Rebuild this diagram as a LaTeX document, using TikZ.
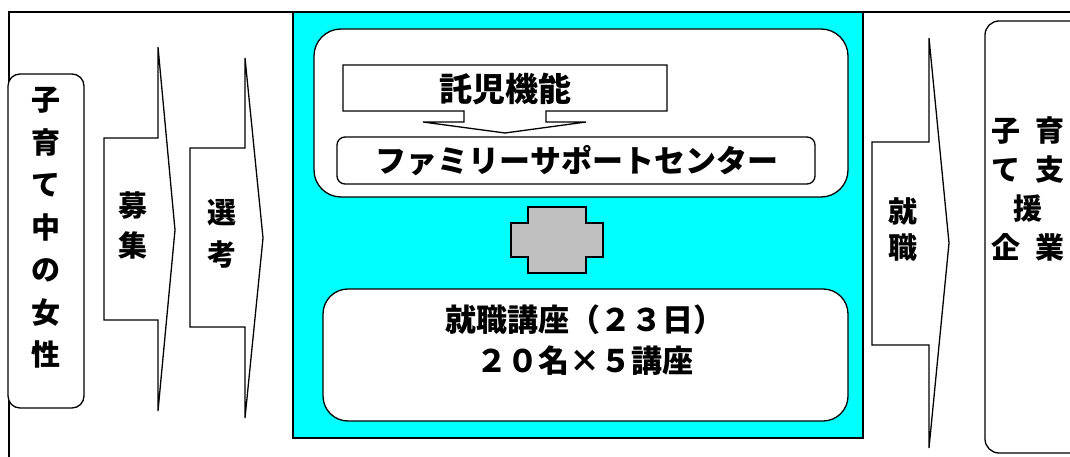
\documentclass[tikz,border=0pt]{standalone}
\usepackage{fontspec}
\setmainfont{Noto Sans CJK JP}
\definecolor{aqua}{RGB}{0,255,255}
\definecolor{crossgray}{RGB}{192,192,192}
\begin{document}
\begin{tikzpicture}[x=1pt,y=-1pt,
  shp/.style={draw=black,line width=1.3pt,fill=white,line join=miter},
  jtxt/.style={inner sep=0pt,align=center},
  big/.style={font=\fontsize{31}{41}\selectfont\bfseries},
]
\useasboundingbox (0,0) rectangle (1070,457);
\fill[white] (0,0) rectangle (1070,457);
% outer frame
\draw[line width=2pt] (9,470) -- (9,12) -- (1090,12);
% left box
\draw[shp, rounded corners=12pt] (8,74) rectangle (84,408);
\node[jtxt, font=\fontsize{29}{42.5}\selectfont\bfseries] (women) at (46,228) {子\\育\\て\\中\\の\\女\\性};
% recruit arrow
\draw[shp] (104,138) -- (158,138) -- (158,47) -- (175,230) -- (158,411) -- (158,320) -- (104,320) -- cycle;
\node[jtxt, font=\fontsize{29}{40}\selectfont\bfseries] (recruit) at (133,225) {募\\集};
% selection arrow
\draw[shp] (190,148) -- (245,148) -- (245,58) -- (263,238) -- (245,418) -- (245,327) -- (190,327) -- cycle;
\node[jtxt, font=\fontsize{29}{42}\selectfont\bfseries] (select) at (222,234) {選\\考};
% cyan panel
\draw[line width=2pt, fill=aqua] (293,12) rectangle (863,438);
% top rounded box
\draw[shp, rounded corners=27pt] (314,29) rectangle (848,197);
% childcare box with arrow
\draw[shp] (343,65) -- (667,65) -- (667,111) -- (546,111) -- (546,122) -- (586,122) -- (505,133) -- (423,122) -- (464,122) -- (464,111) -- (343,111) -- cycle;
\node[jtxt, font=\fontsize{33}{33}\selectfont\bfseries] (care) at (505,89) {託児機能};
% family support box
\draw[shp, rounded corners=8pt] (337,137) rectangle (815,184);
\node[jtxt, big] (fsc) at (577,161) {ファミリーサポートセンター};
% cross
\draw[draw=black, line width=1.3pt, fill=crossgray] (528,207) -- (586,207) -- (586,223) -- (603,223) -- (603,257) -- (586,257) -- (586,273) -- (528,273) -- (528,257) -- (511,257) -- (511,223) -- (528,223) -- cycle;
% lower rounded box
\draw[shp, rounded corners=25pt] (323,289) rectangle (848,421);
\node[jtxt, big] (course) at (585,340) {就職講座（２３日）\\２０名×５講座};
% employment arrow
\draw[shp] (872,142) -- (929,142) -- (929,38) -- (949,243) -- (929,448) -- (929,345) -- (872,345) -- cycle;
\node[jtxt, font=\fontsize{29}{36}\selectfont\bfseries] (job) at (903,230) {就\\職};
% right box
\draw[shp, rounded corners=14pt] (985,21) rectangle (1100,453);
\node[jtxt, font=\fontsize{29}{39}\selectfont\bfseries] (firms) at (1028,189) {子\hspace{15pt}育\\て\hspace{15pt}支\\援\\企\hspace{15pt}業};
\end{tikzpicture}
\end{document}
